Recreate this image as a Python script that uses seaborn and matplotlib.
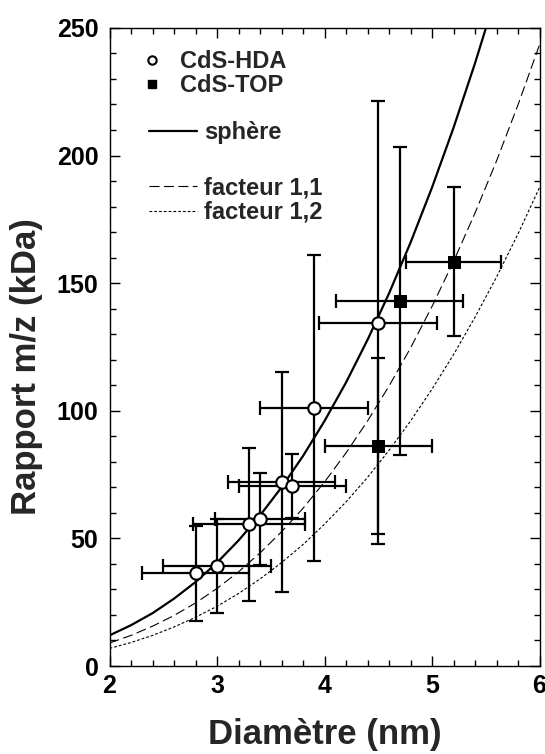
"""m/z ratio vs CdS nanocrystal diameter, with sphere / shape-factor curves."""
import matplotlib

matplotlib.use("Agg")
import matplotlib.pyplot as plt
import numpy as np
import pandas as pd
import seaborn as sns
from matplotlib.lines import Line2D
from matplotlib.ticker import MultipleLocator

hda_d = [2.8, 3.0, 3.3, 3.4, 3.6, 3.7, 3.9, 4.5]
hda_mz = [36.4, 39.2, 55.6, 57.6, 72.1, 70.5, 101.2, 134.5]
hda_d_err = [0.5, 0.5, 0.52, 0.42, 0.5, 0.5, 0.5, 0.55]
hda_mz_err = [18.6, 18.4, 30.0, 18.2, 43.0, 12.5, 60.0, 86.7]

top_d = [4.5, 4.7, 5.2]
top_mz = [86.2, 143.0, 158.4]
top_d_err = [0.5, 0.59, 0.44]
top_mz_err = [34.5, 60.5, 29.3]

# model curves, read at 0.2 nm steps
curve_d = [2.0, 2.2, 2.4, 2.6, 2.8, 3.0, 3.2, 3.4, 3.6, 3.8, 4.0,
           4.2, 4.4, 4.6, 4.8, 5.0, 5.2, 5.4, 5.6, 5.8, 6.0]
sphere_mz = [12.0, 16.0, 20.7, 26.4, 32.9, 40.5, 49.2, 59.0, 70.0, 82.3, 96.0,
             111.1, 127.8, 146.0, 165.9, 187.5, 210.9, 236.2, 263.4, 292.7, 324.0]
f11_mz = [9.0, 12.0, 15.6, 19.8, 24.7, 30.4, 36.9, 44.3, 52.6, 61.8, 72.1,
          83.5, 96.0, 109.7, 124.6, 140.9, 158.5, 177.5, 197.9, 219.9, 243.4]
f12_mz = [6.9, 9.2, 12.0, 15.3, 19.1, 23.4, 28.4, 34.1, 40.5, 47.6, 55.6,
          64.3, 73.9, 84.5, 96.0, 108.5, 122.0, 136.7, 152.4, 169.3, 187.5]

x_ticks = [2, 3, 4, 5, 6]
y_ticks = [0, 50, 100, 150, 200, 250]

LEG_FS = 17


def main() -> None:
    sns.set_theme(style="ticks")
    plt.rcParams["font.family"] = ["Liberation Sans", "DejaVu Sans"]
    plt.rcParams["font.weight"] = "bold"

    curves = pd.DataFrame({"d": curve_d, "sphere": sphere_mz,
                           "f11": f11_mz, "f12": f12_mz})

    fig = plt.figure(figsize=(5.45, 7.54), dpi=100)
    ax = fig.add_axes([0.201, 0.1167, 0.789, 0.8463])

    sns.lineplot(data=curves, x="d", y="sphere", ax=ax, color="black",
                 lw=1.6, zorder=2)
    sns.lineplot(data=curves, x="d", y="f11", ax=ax, color="black",
                 lw=0.8, zorder=2).lines[-1].set_dashes([9, 4])
    sns.lineplot(data=curves, x="d", y="f12", ax=ax, color="black",
                 lw=0.8, zorder=2).lines[-1].set_dashes([2.5, 1.8])

    eb = dict(fmt="none", ecolor="black", elinewidth=1.6, capsize=5,
              capthick=1.6, zorder=3)
    ax.errorbar(hda_d, hda_mz, xerr=hda_d_err, yerr=hda_mz_err, **eb)
    ax.errorbar(top_d, top_mz, xerr=top_d_err, yerr=top_mz_err, **eb)

    sns.scatterplot(x=hda_d, y=hda_mz, ax=ax, marker="o", s=80,
                    facecolor="white", edgecolor="black", linewidth=1.5,
                    zorder=4)
    sns.scatterplot(x=top_d, y=top_mz, ax=ax, marker="s", s=80,
                    color="black", edgecolor="black", zorder=4)

    ax.set_xlim(2, 6)
    ax.set_ylim(0, 250)
    ax.set_xticks(x_ticks)
    ax.set_yticks(y_ticks)
    ax.xaxis.set_minor_locator(MultipleLocator(0.2))
    ax.yaxis.set_minor_locator(MultipleLocator(10))
    ax.tick_params(which="both", direction="in", top=True, right=True,
                   width=1.0, colors="black")
    ax.tick_params(which="major", length=7, labelsize=18)
    ax.tick_params(which="minor", length=4)
    ax.tick_params(axis="x", pad=6)
    ax.tick_params(axis="y", pad=8)
    for lab in ax.get_xticklabels() + ax.get_yticklabels():
        lab.set_fontweight("bold")
    for sp in ax.spines.values():
        sp.set_linewidth(1.0)
        sp.set_color("black")

    ax.set_xlabel("Diamètre (nm)", fontsize=25, fontweight="bold", labelpad=14)
    ax.set_ylabel("Rapport m/z (kDa)", fontsize=25, fontweight="bold")
    ax.yaxis.set_label_coords(-0.155, 0.469)

    prop = dict(size=LEG_FS, weight="bold")
    common = dict(loc="center left", frameon=False, borderaxespad=0,
                  borderpad=0, prop=prop)

    mk = [
        Line2D([], [], ls="none", marker="o", ms=6, mfc="white", mec="black", mew=1.5),
        Line2D([], [], ls="none", marker="s", ms=6, mfc="black", mec="black"),
    ]
    leg1 = ax.legend(mk, ["CdS-HDA", "CdS-TOP"], bbox_to_anchor=(0.080, 0.928),
                     handlelength=0.65, handletextpad=0.88, labelspacing=0.05,
                     **common)
    ax.add_artist(leg1)

    leg2 = ax.legend([Line2D([], [], color="black", lw=1.6)], ["sphère"],
                     bbox_to_anchor=(0.0926, 0.8354), handlelength=2.0,
                     handletextpad=0.31, **common)
    ax.add_artist(leg2)

    ln = [
        Line2D([], [], color="black", lw=0.8, dashes=[9, 4]),
        Line2D([], [], color="black", lw=0.8, dashes=[2.5, 1.8]),
    ]
    ax.legend(ln, ["facteur 1,1", "facteur 1,2"], bbox_to_anchor=(0.0926, 0.730),
              handlelength=2.0, handletextpad=0.31, labelspacing=0.05,
              **common)

    fig.savefig("out.png", dpi=100, facecolor="white")
    plt.close(fig)


if __name__ == "__main__":
    main()
